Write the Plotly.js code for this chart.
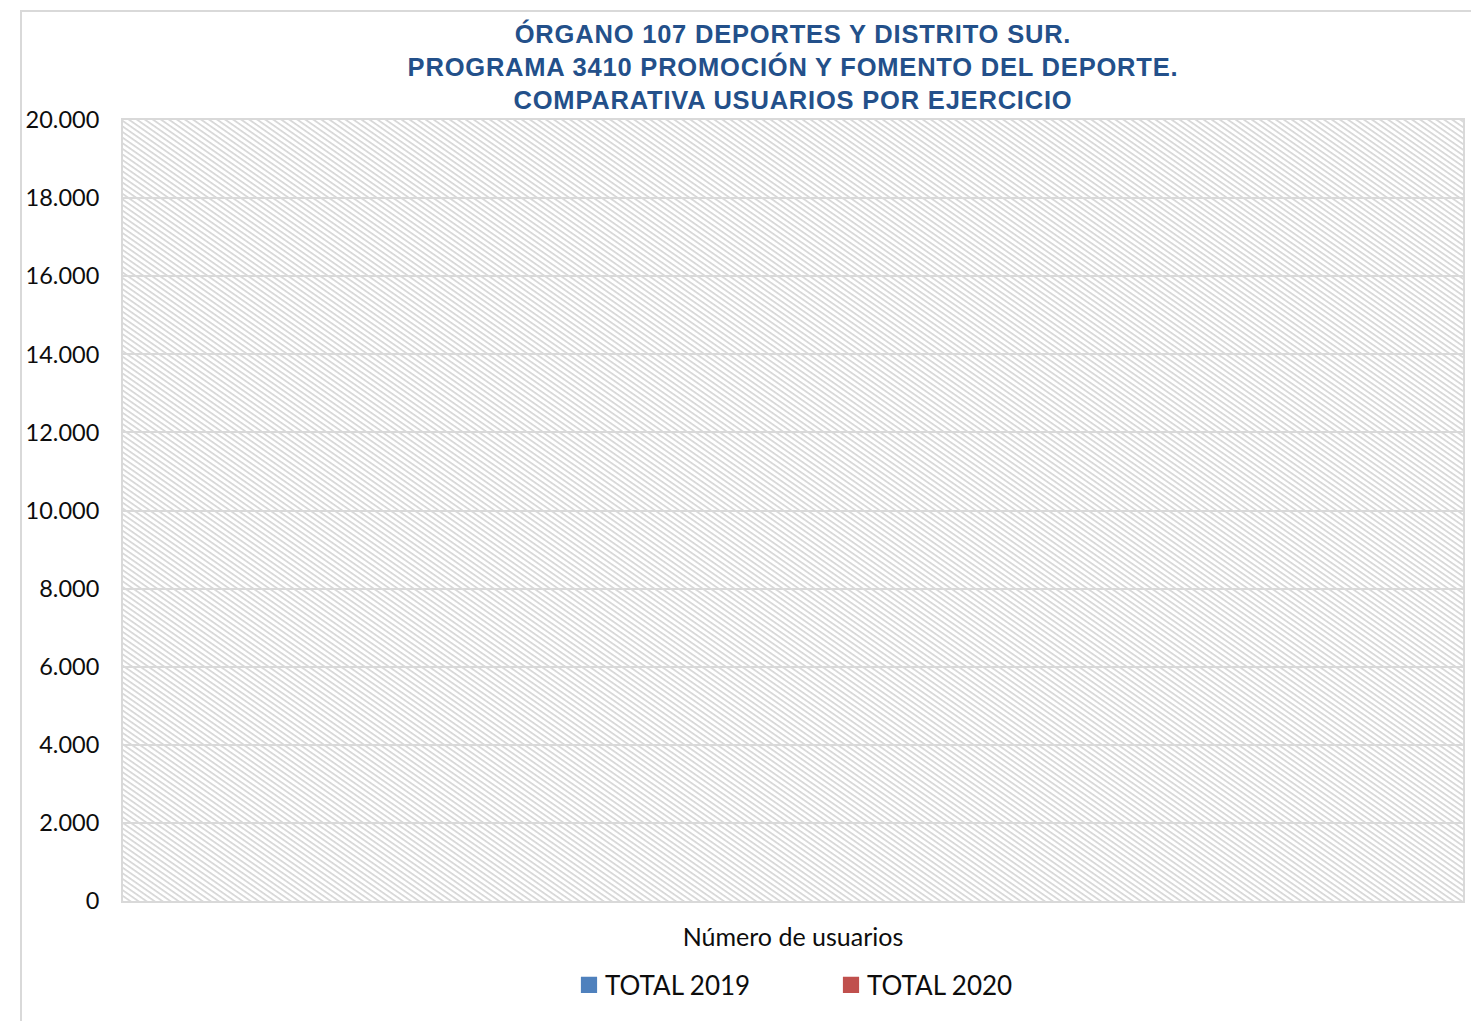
<!DOCTYPE html>
<html>
<head>
<meta charset="utf-8">
<script src="https://cdn.plot.ly/plotly-3.0.1.min.js"></script>
<style>
  html, body { margin: 0; padding: 0; background: #ffffff; overflow: hidden; }
  #chart { width: 1471px; height: 1021px; }
  #chart .gtitle { letter-spacing: 0.8px; }
</style>
</head>
<body>
<div id="chart"></div>
<script>
// ---- Data ----
const categories = ["Número de usuarios"];
const seriesNames = ["TOTAL 2019", "TOTAL 2020"];
const values2019 = [0];
const values2020 = [0];
const seriesColors = ["#4F81BD", "#C0504D"];
const yTickValues = [0, 2000, 4000, 6000, 8000, 10000, 12000, 14000, 16000, 18000, 20000];
const titleLines = [
  "ÓRGANO 107 DEPORTES Y DISTRITO SUR.",
  "PROGRAMA 3410 PROMOCIÓN Y FOMENTO DEL DEPORTE.",
  "COMPARATIVA USUARIOS POR EJERCICIO"
];

// ---- Layout geometry ----
const W = 1471, H = 1021;
const M = { l: 123, r: 8, t: 120, b: 120 };
const PW = W - M.l - M.r, PH = H - M.t - M.b;

// hatch background of the plot area (SVG pattern as data URI)
const hatchSvg =
  '<svg xmlns="http://www.w3.org/2000/svg" width="' + PW + '" height="' + PH + '">' +
  '<defs><pattern id="h" width="10" height="4.6" patternUnits="userSpaceOnUse" patternTransform="rotate(35)">' +
  '<rect x="0" y="0" width="10" height="1.7" fill="#d6d6d6"/></pattern></defs>' +
  '<rect width="100%" height="100%" fill="#ffffff"/>' +
  '<rect width="100%" height="100%" fill="url(#h)"/></svg>';
const hatchUri = 'data:image/svg+xml;charset=utf-8,' + encodeURIComponent(hatchSvg);

const traces = [
  { type: "bar", name: seriesNames[0], x: categories, y: values2019, marker: { color: seriesColors[0] }, hoverinfo: "y+name" },
  { type: "bar", name: seriesNames[1], x: categories, y: values2020, marker: { color: seriesColors[1] }, hoverinfo: "y+name" }
];

const layout = {
  width: W, height: H,
  margin: M,
  paper_bgcolor: "#ffffff",
  plot_bgcolor: "#ffffff",
  separators: ",.",
  font: { family: "Lato, 'Open Sans', sans-serif", color: "#0d0d0d" },
  title: {
    text: titleLines.join("<br>"),
    x: 0.5, xref: "paper", xanchor: "center",
    y: 1 - 43 / H, yref: "container", yanchor: "middle",
    font: { family: "'Liberation Sans', Arial, sans-serif", size: 25.5, color: "#23508A", weight: "bold" }
  },
  barmode: "group",
  bargap: 0.3,
  xaxis: {
    type: "category",
    showgrid: false,
    showline: true, linecolor: "#d9d9d9", linewidth: 2, mirror: true,
    ticks: "", ticklabelstandoff: 13,
    tickfont: { family: "Lato, sans-serif", size: 25, color: "#0d0d0d" },
    fixedrange: true
  },
  yaxis: {
    range: [0, 20000],
    tickvals: yTickValues,
    tickformat: ",d",
    showgrid: true, gridcolor: "#d9d9d9", gridwidth: 2,
    zeroline: false,
    showline: true, linecolor: "#d9d9d9", linewidth: 2, mirror: true,
    ticks: "", ticklabelstandoff: 17,
    tickfont: { family: "Lato, sans-serif", size: 23.5, color: "#0d0d0d" },
    fixedrange: true
  },
  showlegend: true,
  legend: {
    orientation: "h",
    x: (565 - M.l) / PW, xanchor: "left",
    y: -(985 - (H - M.b)) / PH, yanchor: "middle",
    font: { family: "Lato, sans-serif", size: 26, color: "#0d0d0d" },
    entrywidth: 217, entrywidthmode: "pixels",
    bgcolor: "rgba(0,0,0,0)"
  },
  images: [{
    source: hatchUri,
    xref: "paper", yref: "paper",
    x: 0, y: 1, sizex: 1, sizey: 1,
    xanchor: "left", yanchor: "top",
    sizing: "stretch", layer: "below"
  }],
  shapes: [{
    type: "rect", xref: "paper", yref: "paper",
    x0: (21 - M.l) / PW, x1: (W + 20 - M.l) / PW,
    y0: -(H + 20 - (H - M.b)) / PH, y1: ((H - M.b) - 11) / PH,
    line: { color: "#d9d9d9", width: 2 }, fillcolor: "rgba(0,0,0,0)", layer: "below"
  }]
};

function enlargeLegendSymbols() {
  document.querySelectorAll('#chart .legend .legendpoints path').forEach(function (p) {
    p.setAttribute('transform', 'translate(24,0) scale(1.35)');
  });
}

Plotly.newPlot("chart", traces, layout, { displayModeBar: false, responsive: false }).then(function (gd) {
  enlargeLegendSymbols();
  gd.on('plotly_afterplot', enlargeLegendSymbols);
});
</script>
</body>
</html>
